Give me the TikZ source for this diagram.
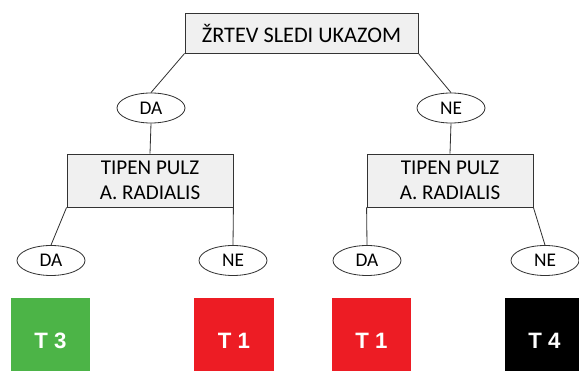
\documentclass[tikz,border=0pt]{standalone}
\usepackage{fontspec}
\setmainfont{Carlito}
\newfontfamily\tagfont{Liberation Sans}
\usetikzlibrary{shapes.geometric}
\definecolor{tgreen}{HTML}{4CB447}
\definecolor{tred}{HTML}{ED1C24}
\definecolor{tline}{HTML}{333333}
\definecolor{tfill}{HTML}{F0F0F0}

\begin{document}
\begin{tikzpicture}[x=0.03cm,y=-0.03cm,
  question/.style={draw=tline,fill=tfill,line width=0.7pt,inner sep=0pt,align=center,
    font=\fontsize{18}{21.3}\selectfont},
  answer/.style={ellipse,draw=tline,fill=white,line width=0.7pt,inner sep=0pt,
    minimum width=2.04cm,minimum height=0.9cm,font=\fontsize{16.5}{16.5}\selectfont},
  triage/.style={minimum width=2.37cm,minimum height=2.6cm,inner sep=0pt,text=white,
    font=\tagfont\bfseries\fontsize{19}{19}\selectfont},
  link/.style={draw=tline,line width=0.7pt}]
\clip (0,0) rectangle (579,371);

\node[question,minimum width=6.99cm,minimum height=1.2cm,font=\fontsize{19}{19}\selectfont] (zrtev) at (301.5,33) {ŽRTEV SLEDI UKAZOM};

\node[answer] (da) at (151,108) {DA};
\node[answer] (ne) at (451,108) {NE};

\node[question,minimum width=4.98cm,minimum height=1.59cm] (pulzl) at (150,180.5) {TIPEN PULZ\\A. RADIALIS};
\node[question,minimum width=4.98cm,minimum height=1.59cm] (pulzr) at (450,180.5) {TIPEN PULZ\\A. RADIALIS};

\node[answer] (dal) at (51,260.5) {DA};
\node[answer] (nel) at (233,260.5) {NE};
\node[answer] (dar) at (367,260.5) {DA};
\node[answer] (ner) at (545,260.5) {NE};

\node[triage,fill=tgreen] (t3) at (50.5,341) {T 3};
\node[triage,fill=tred] (t1l) at (234,341) {T 1};
\node[triage,fill=tred] (t1r) at (371.5,341) {T 1};
\node[triage,fill=black] (t4) at (544.5,341) {T 4};

\path[link] (zrtev.south west) -- (da.north);
\path[link] (zrtev.south east) -- (ne.north);
\path[link] (da.south) -- (pulzl.north);
\path[link] (ne.south) -- (pulzr.north);
\path[link] (pulzl.south west) -- (dal.north);
\path[link] (pulzl.south east) -- (nel.north);
\path[link] (pulzr.south west) -- (dar.north);
\path[link] (pulzr.south east) -- (ner.north);
\end{tikzpicture}
\end{document}
